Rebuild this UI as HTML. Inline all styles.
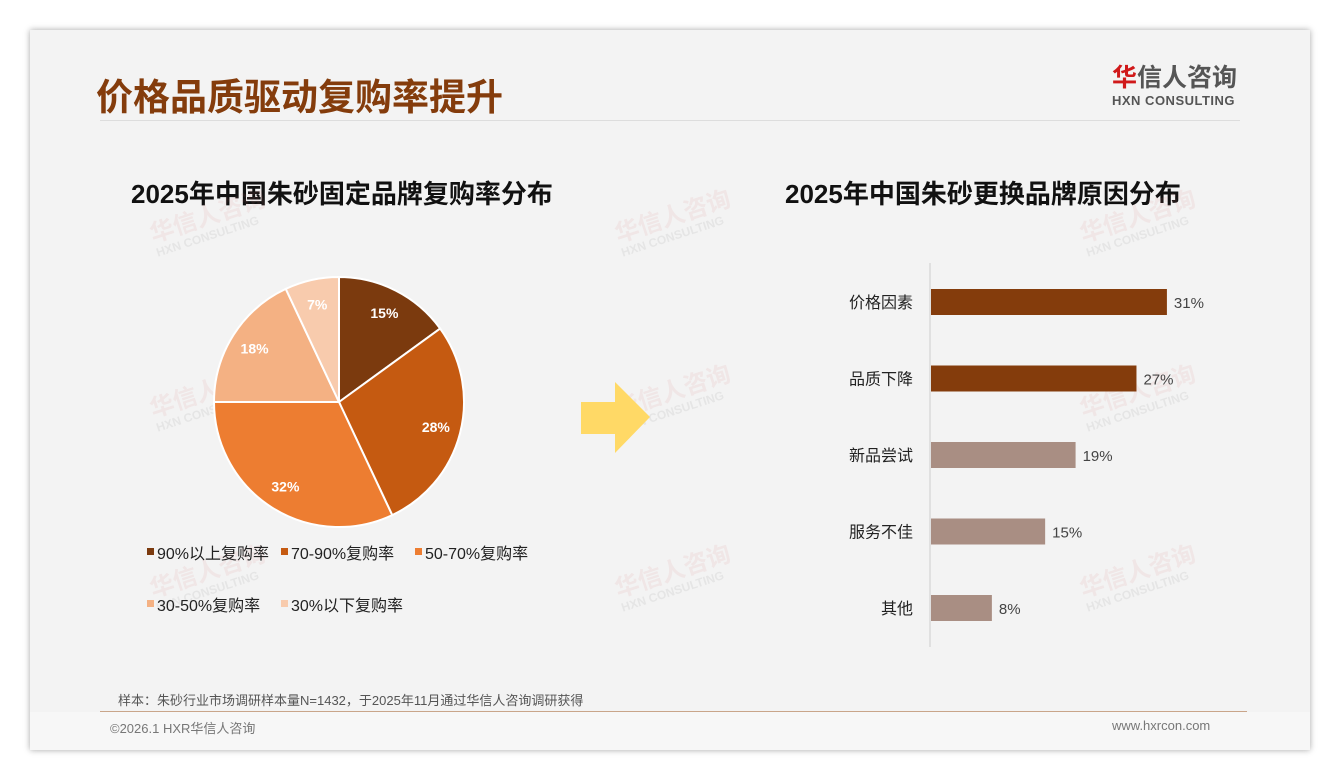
<!DOCTYPE html>
<html><head><meta charset="utf-8"><style>
body{margin:0;width:1340px;height:780px;background:#fff;font-family:"Liberation Sans","Noto Sans CJK SC",sans-serif;position:relative;overflow:hidden}
.card{position:absolute;left:30px;top:30px;width:1280px;height:720px;background:#f3f3f3;box-shadow:0 0 6px rgba(0,0,0,.35)}
.abs{position:absolute}
.wm{position:absolute;color:rgba(220,120,120,.10);font-weight:bold;font-size:24px;transform:rotate(-18deg);line-height:1}
.wm span{display:block;font-size:12px;color:rgba(180,180,180,.22)}
</style></head><body>
<div class="card">
 <div class="abs" style="left:66px;top:37px;font-size:37px;font-weight:bold;color:#843C0C">价格品质驱动复购率提升</div>
 <div class="abs" style="left:70px;top:90px;width:1140px;height:1px;background:#ddd"></div>
 <div class="abs" style="left:1082px;top:33px;">
  <div style="font-size:25px;font-weight:bold;color:#555;line-height:30px"><span style="color:#d0191a">华</span>信人咨询</div>
  <div style="font-size:13px;font-weight:bold;color:#555;letter-spacing:.5px">HXN CONSULTING</div>
 </div>
 <div class="abs" style="left:101px;top:144px;font-size:26px;font-weight:bold;color:#111">2025年中国朱砂固定品牌复购率分布</div>
 <div class="abs" style="left:755px;top:144px;font-size:26px;font-weight:bold;color:#111">2025年中国朱砂更换品牌原因分布</div>
 <div class="wm" style="left:120px;top:175px">华信人咨询<span>HXN CONSULTING</span></div>
 <div class="wm" style="left:585px;top:175px">华信人咨询<span>HXN CONSULTING</span></div>
 <div class="wm" style="left:1050px;top:175px">华信人咨询<span>HXN CONSULTING</span></div>
 <div class="wm" style="left:120px;top:350px">华信人咨询<span>HXN CONSULTING</span></div>
 <div class="wm" style="left:585px;top:350px">华信人咨询<span>HXN CONSULTING</span></div>
 <div class="wm" style="left:1050px;top:350px">华信人咨询<span>HXN CONSULTING</span></div>
 <div class="wm" style="left:120px;top:530px">华信人咨询<span>HXN CONSULTING</span></div>
 <div class="wm" style="left:585px;top:530px">华信人咨询<span>HXN CONSULTING</span></div>
 <div class="wm" style="left:1050px;top:530px">华信人咨询<span>HXN CONSULTING</span></div>
 <div class="abs" style="left:88px;top:660px;font-size:13px;color:#555">样本：朱砂行业市场调研样本量N=1432，于2025年11月通过华信人咨询调研获得</div>
 <div class="abs" style="left:70px;top:681px;width:1147px;height:1px;background:#c9a58a"></div>
 <div class="abs" style="left:0;top:682px;width:1280px;height:38px;background:#f7f7f7"></div>
 <div class="abs" style="left:80px;top:688px;font-size:13px;color:#777">©2026.1 HXR华信人咨询</div>
 <div class="abs" style="left:1082px;top:688px;font-size:13px;color:#777">www.hxrcon.com</div>
</div>
<svg id="chart" width="1340" height="780" style="position:absolute;left:0;top:0">
 <polygon points="581,402 615,402 615,382 650,417 615,453 615,434 581,434" fill="#FFD966"/>
</svg>
<script>
const pieLabels=["90%以上复购率","70-90%复购率","50-70%复购率","30-50%复购率","30%以下复购率"];
const pieValues=[15,28,32,18,7];
const pieColors=["#7B3A0E","#C55A11","#ED7D31","#F4B183","#F8CBAD"];
const barCats=["价格因素","品质下降","新品尝试","服务不佳","其他"];
const barValues=[31,27,19,15,8];
const barColors=["#843C0C","#843C0C","#A98E83","#A98E83","#A98E83"];
const NS="http://www.w3.org/2000/svg";
const svg=document.getElementById('chart');
function mk(t,a){const e=document.createElementNS(NS,t);for(const k in a)e.setAttribute(k,a[k]);svg.appendChild(e);return e;}
const cx=339,cy=402,R=125;
const tot=pieValues.reduce((a,b)=>a+b,0);
let ang=0;
pieValues.forEach((v,i)=>{
 const a0=ang,a1=ang+v/tot*2*Math.PI;ang=a1;
 const p=(a)=>[cx+R*Math.sin(a),cy-R*Math.cos(a)];
 const [x0,y0]=p(a0),[x1,y1]=p(a1);
 const path=mk('path',{d:`M${cx},${cy} L${x0},${y0} A${R},${R} 0 ${a1-a0>Math.PI?1:0} 1 ${x1},${y1} Z`,fill:pieColors[i],stroke:'#fff','stroke-width':2});
 
 
 const m=(a0+a1)/2,r=R*0.8;
 const t=mk('text',{x:cx+r*Math.sin(m),y:cy-r*Math.cos(m)+5,'text-anchor':'middle',fill:'#fff','font-size':14,'font-weight':'bold'});
 t.textContent=v+'%';
 
 
});
const legPos=[[147,553],[281,553],[415,553],[147,605],[281,605]];
pieLabels.forEach((l,i)=>{
 const r=mk('rect',{x:legPos[i][0],y:legPos[i][1]-5,width:7,height:7,fill:pieColors[i]});
 
 
 const t=mk('text',{x:legPos[i][0]+10,y:legPos[i][1]+6,'font-size':16,fill:'#222'});
 t.textContent=l;
 
 
});
const x0=930,pxPer=7.61,yTop=302,step=76.5,bh=26;
const ax=mk('line',{x1:x0,y1:263,x2:x0,y2:647,stroke:'#ccc','stroke-width':1});


barCats.forEach((c,i)=>{
 const y=yTop+i*step;
 const r=mk('rect',{x:x0+1,y:y-bh/2,width:barValues[i]*pxPer,height:bh,fill:barColors[i]});
 
 
 const l=mk('text',{x:913,y:y+6,'text-anchor':'end','font-size':16,fill:'#222'});
 l.textContent=c;
 
 
 const v=mk('text',{x:x0+barValues[i]*pxPer+8,y:y+6,'font-size':15,fill:'#444'});
 v.textContent=barValues[i]+'%';
 
 
});
</script>
</body></html>
